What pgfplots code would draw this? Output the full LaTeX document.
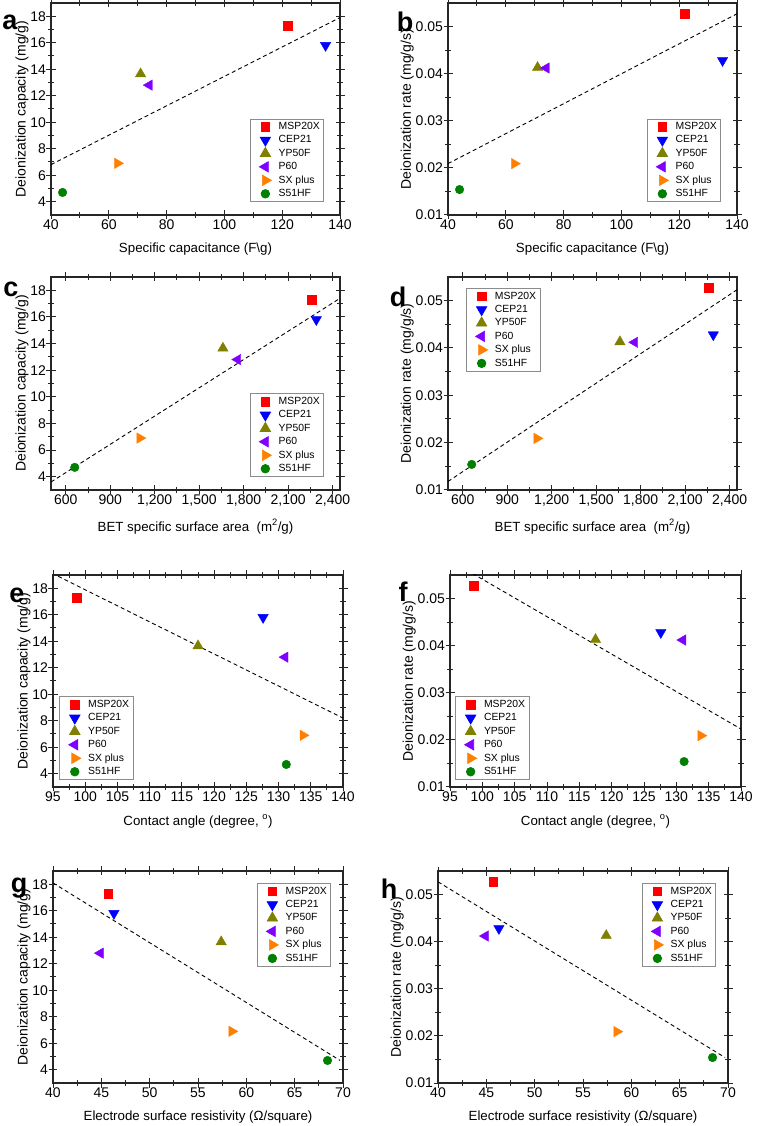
\documentclass[border=0pt]{standalone}
\usepackage{fontspec}
\setmainfont{Liberation Sans}
\usepackage{pgfplots}
\usepackage{pgfplotstable}
\pgfplotsset{compat=1.18}

\definecolor{cMSP}{RGB}{255,0,0}
\definecolor{cCEP}{RGB}{0,0,255}
\definecolor{cYP}{RGB}{128,128,0}
\definecolor{cP60}{RGB}{128,0,255}
\definecolor{cSX}{RGB}{255,128,0}
\definecolor{cS51}{RGB}{0,128,0}

% sc = specific capacitance, bet = BET area, ca = contact angle, res = resistivity
\pgfplotstableread{
sc bet ca res cap rate
122 2260 98.7 45.7 17.3 0.0528
}\tMSP
\pgfplotstableread{
sc bet ca res cap rate
135 2290 127.6 46.3 15.8 0.0428
}\tCEP
\pgfplotstableread{
sc bet ca res cap rate
71 1660 117.5 57.4 13.65 0.0413
}\tYP
\pgfplotstableread{
sc bet ca res cap rate
74 1760 131.0 44.9 12.8 0.0412
}\tPsixty
\pgfplotstableread{
sc bet ca res cap rate
63 1100 133.8 58.5 6.9 0.0209
}\tSX
\pgfplotstableread{
sc bet ca res cap rate
44 660 131.2 68.4 4.7 0.0154
}\tSfifty

\pgfplotsset{
  panel/.style={
    scale only axis, anchor=south west,
    axis line style={black!85, line width=1.1pt},
    tick align=center, minor tick num=1,
    major tick length=9pt, minor tick length=5.5pt,
    major tick style={draw=black!85, line width=1pt},
    minor tick style={draw=black!85, line width=1pt},
    scaled ticks=false,
    /pgf/number format/assume math mode=true,
    tick label style={font=\fontsize{14}{16}\selectfont},
    xticklabel style={yshift=3pt},
    yticklabel style={xshift=3pt},
    xlabel style={font=\fontsize{13.3}{15}\selectfont, yshift=-6pt},
    ylabel style={font=\fontsize{14}{16}\selectfont},
    ylabel shift=-5pt,
    clip=true,
    legend cell align=left,
    legend style={font=\fontsize{10.4}{12.2}\selectfont, draw=black!45,
      line width=0.7pt, fill=white, inner xsep=2pt, inner ysep=1.5pt,
      row sep=0.6pt},
    legend image code/.code={\path (0pt,0pt) (24pt,0pt);
      \draw[##1] plot coordinates {(13pt,0pt)};},
  },
  capax/.style={ymin=3, ymax=19, ytick={4,6,...,18},
    ylabel={Deionization capacity (mg/g)}},
  rateax/.style={ymin=0.01, ymax=0.055, ytick={0.01,0.02,0.03,0.04,0.05},
    yticklabels={0.01,0.02,0.03,0.04,0.05},
    ylabel={Deionization rate (mg/g/s)}},
  scax/.style={xmin=40, xmax=140, xtick={40,60,...,140},
    xlabel={Specific capacitance (F\textbackslash g)}},
  betax/.style={xmin=500, xmax=2450, xtick={600,900,...,2400},
    xticklabels={600,900,{1,200},{1,500},{1,800},{2,100},{2,400}},
    xlabel={BET specific surface area\ \ (m\textsuperscript{2}/g)}},
  caax/.style={xmin=95, xmax=140, xtick={95,100,...,140},
    xlabel={Contact angle (degree, \textsuperscript{o})}},
  resax/.style={xmin=40, xmax=70, xtick={40,45,...,70},
    xlabel={Electrode surface resistivity (Ω/square)}},
  fit/.style={black, line width=0.9pt, dash pattern=on 4pt off 3pt, forget plot},
  mMSP/.style={only marks, color=cMSP, mark=square*, mark size=4.4pt},
  mCEP/.style={only marks, color=cCEP, mark=triangle*, mark size=6pt, mark options={rotate=180}},
  mYP/.style={only marks, color=cYP, mark=triangle*, mark size=6pt},
  mP60/.style={only marks, color=cP60, mark=triangle*, mark size=6pt, mark options={rotate=90}},
  mSX/.style={only marks, color=cSX, mark=triangle*, mark size=6pt, mark options={rotate=-90}},
  mS51/.style={only marks, color=cS51, mark=*, mark size=4.3pt},
}

\newcommand\materials[2]{%
  \addplot[mMSP] table[x=#1,y=#2]{\tMSP};
  \addplot[mCEP] table[x=#1,y=#2]{\tCEP};
  \addplot[mYP] table[x=#1,y=#2]{\tYP};
  \addplot[mP60] table[x=#1,y=#2]{\tPsixty};
  \addplot[mSX] table[x=#1,y=#2]{\tSX};
  \addplot[mS51] table[x=#1,y=#2]{\tSfifty};
  \legend{MSP20X,CEP21,YP50F,P60,SX plus,S51HF}%
}

\begin{document}
\begin{tikzpicture}
\useasboundingbox (0pt,0pt) rectangle (756pt,1126pt);

% a
\begin{axis}[panel, capax, scax, at={(51pt,911pt)}, width=289pt, height=212pt,
  legend style={at={(0.945,0.061)}, anchor=south east}]
  \addplot[fit] coordinates {(40,6.8) (140,17.9)};
  \materials{sc}{cap}
\end{axis}

% b
\begin{axis}[panel, rateax, scax, at={(448pt,911pt)}, width=289pt, height=212pt,
  legend style={at={(0.945,0.061)}, anchor=south east}]
  \addplot[fit] coordinates {(40,0.0209) (140,0.0527)};
  \materials{sc}{rate}
\end{axis}

% c
\begin{axis}[panel, capax, betax, at={(51pt,636pt)}, width=289pt, height=213pt,
  legend style={at={(0.945,0.061)}, anchor=south east}]
  \addplot[fit] coordinates {(500,3.6) (2450,17.4)};
  \materials{bet}{cap}
\end{axis}

% d
\begin{axis}[panel, rateax, betax, at={(448pt,636pt)}, width=289pt, height=213pt,
  legend style={at={(0.062,0.948)}, anchor=north west}]
  \addplot[fit] coordinates {(500,0.0118) (2450,0.0523)};
  \materials{bet}{rate}
\end{axis}

% e
\begin{axis}[panel, capax, caax, at={(53pt,339pt)}, width=290pt, height=212pt,
  legend style={at={(0.021,0.033)}, anchor=south west}]
  \addplot[fit] coordinates {(95.8,18.9) (140,8.2)};
  \materials{ca}{cap}
\end{axis}

% f
\begin{axis}[panel, rateax, caax, at={(450pt,339pt)}, width=291pt, height=212pt,
  legend style={at={(0.017,0.033)}, anchor=south west}]
  \addplot[fit] coordinates {(98.5,0.0553) (140,0.0223)};
  \materials{ca}{rate}
\end{axis}

% g
\begin{axis}[panel, capax, resax, at={(53pt,43pt)}, width=290pt, height=212pt,
  legend style={at={(0.959,0.943)}, anchor=north east}]
  \addplot[fit] coordinates {(40,18.1) (69.7,4.7)};
  \materials{res}{cap}
\end{axis}

% h
\begin{axis}[panel, rateax, resax, at={(438pt,43pt)}, width=290pt, height=212pt,
  legend style={at={(0.959,0.943)}, anchor=north east}]
  \addplot[fit] coordinates {(40,0.0527) (69.7,0.0154)};
  \materials{res}{rate}
\end{axis}

% panel letters
\begin{scope}[every node/.style={font=\fontsize{27}{30}\selectfont\bfseries, anchor=base, inner sep=0pt}]
  \node at (10pt,1096pt) {a};
  \node at (405pt,1094pt) {b};
  \node at (11pt,829pt) {c};
  \node at (398pt,819pt) {d};
  \node at (17pt,523pt) {e};
  \node at (403pt,524pt) {f};
  \node at (19pt,233pt) {g};
  \node at (389pt,227pt) {h};
\end{scope}
\end{tikzpicture}
\end{document}
